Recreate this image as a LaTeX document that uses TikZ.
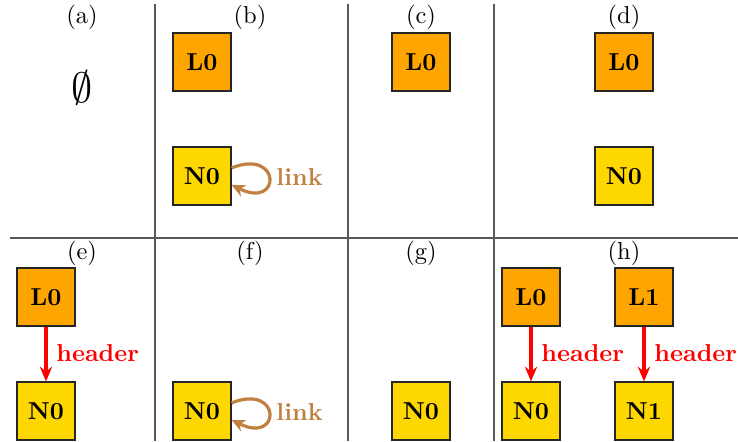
\documentclass[tikz,border=0pt]{standalone}
\usetikzlibrary{arrows.meta}
\definecolor{lcol}{RGB}{255,165,0}
\definecolor{ncol}{RGB}{255,215,0}
\definecolor{linkcol}{RGB}{191,128,64}
\tikzset{
  box/.style={draw=black!85, line width=0.45pt, minimum size=23.7pt, inner sep=0pt, font=\bfseries},
  lbox/.style={box, fill=lcol},
  nbox/.style={box, fill=ncol},
  sep/.style={draw=black!65, line width=0.6pt},
  captxt/.style={inner sep=0pt},
  hdr/.style={draw=red, line width=1.3pt, -{Stealth[length=6pt,width=5pt]}},
  hdrlabel/.style={text=red, font=\bfseries, anchor=west, inner sep=0pt},
  lnk/.style={draw=linkcol, line width=1.3pt, -{Stealth[length=5.5pt,width=5pt]}},
  lnklabel/.style={text=linkcol, font=\bfseries, anchor=west, inner sep=0pt}
}
\begin{document}
\begin{tikzpicture}[x=0.4082pt,y=-0.4082pt]
\useasboundingbox (0,0) rectangle (738,441);
% separators
\coordinate (v1t) at (155,4); \coordinate (v1b) at (155,441);
\coordinate (v2t) at (348,4); \coordinate (v2b) at (348,441);
\coordinate (v3t) at (494,4); \coordinate (v3b) at (494,441);
\coordinate (hl) at (10,238); \coordinate (hr) at (738,238);
\draw[sep] (v1t) -- (v1b);
\draw[sep] (v2t) -- (v2b);
\draw[sep] (v3t) -- (v3b);
\draw[sep] (hl) -- (hr);
% captions
\node[captxt] (ca) at (82,17) {(a)};
\node[captxt] (cb) at (250,17) {(b)};
\node[captxt] (cc) at (421,17) {(c)};
\node[captxt] (cd) at (624,17) {(d)};
\node[captxt] (ce) at (82,253) {(e)};
\node[captxt] (cf) at (250,253) {(f)};
\node[captxt] (cg) at (421,253) {(g)};
\node[captxt] (ch) at (624,253) {(h)};
% (a)
\node[inner sep=0pt] (empty) at (82,88) {\LARGE$\emptyset$};
% (b)
\node[lbox] (bL0) at (202,62) {L0};
\node[nbox] (bN0) at (202,176) {N0};
\draw[lnk] ([yshift=3.3pt]bN0.east) .. controls +(50,-20) and +(50,25) .. ([yshift=-3.6pt]bN0.east);
\node[lnklabel] (blink) at (276,177) {link};
% (c)
\node[lbox] (cL0) at (421,62) {L0};
% (d)
\node[lbox] (dL0) at (624,62) {L0};
\node[nbox] (dN0) at (624,176) {N0};
% (e)
\node[lbox] (eL0) at (46,297) {L0};
\node[nbox] (eN0) at (46,411) {N0};
\draw[hdr] (eL0) -- (eN0);
\node[hdrlabel] (ehdr) at (56,353) {header};
% (f)
\node[nbox] (fN0) at (202,411) {N0};
\draw[lnk] ([yshift=3.3pt]fN0.east) .. controls +(50,-20) and +(50,25) .. ([yshift=-3.6pt]fN0.east);
\node[lnklabel] (flink) at (276,412) {link};
% (g)
\node[nbox] (gN0) at (421,411) {N0};
% (h)
\node[lbox] (hL0) at (531,297) {L0};
\node[nbox] (hN0) at (531,411) {N0};
\node[lbox] (hL1) at (644,297) {L1};
\node[nbox] (hN1) at (644,411) {N1};
\draw[hdr] (hL0) -- (hN0);
\draw[hdr] (hL1) -- (hN1);
\node[hdrlabel] (hhdr0) at (541,353) {header};
\node[hdrlabel] (hhdr1) at (654,353) {header};
\end{tikzpicture}
\end{document}
